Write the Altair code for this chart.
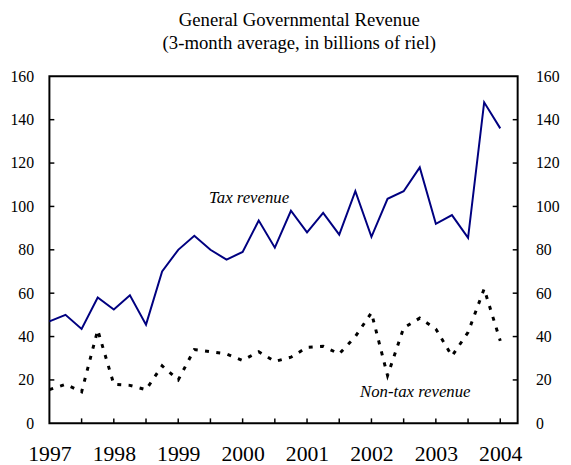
import altair as alt
import pandas as pd

# quarterly observations, 1997Q1 .. 2004Q1
start_year = 1997
tax_revenue = [47, 50, 43.5, 58, 52.5, 59, 45.5, 70, 80, 86.5, 80, 75.5, 79, 93.5, 81,
               98, 88, 97, 87, 107, 86, 103.5, 107, 118, 92, 96, 85.5, 148, 136]
nontax_revenue = [15.5, 18, 14.5, 43, 18, 17.5, 15.5, 26.5, 20, 34, 33, 32, 29, 33, 28.5,
                  30.5, 35, 35.5, 32, 40, 51, 22, 44, 48.5, 43.5, 31, 42, 62, 38]
year_labels = [1997, 1998, 1999, 2000, 2001, 2002, 2003, 2004]
x_ticks = [1997.5, 1998, 1998.5, 1999, 1999.5, 2000, 2000.5, 2001, 2001.5, 2002,
           2002.5, 2003, 2003.5, 2004]
y_ticks = [0, 20, 40, 60, 80, 100, 120, 140, 160]
annotations = ["Tax revenue", "Non-tax revenue"]
annot_x = [2000.1, 2002.68]
annot_y = [104, 14.5]

t = [start_year + i * 0.25 for i in range(len(tax_revenue))]
df = pd.DataFrame({"t": t, "tax": tax_revenue, "nontax": nontax_revenue})
ytick_df = pd.DataFrame({"v": y_ticks[1:-1]})
xtick_df = pd.DataFrame({"v": x_ticks})
ann_df = pd.DataFrame({"label": annotations, "x": annot_x, "y": annot_y})

W, H = 475, 352
SERIF = "Liberation Serif"
xscale = alt.Scale(domain=[1997, 2004.27], nice=False, zero=False)
yscale = alt.Scale(domain=[0, 160], nice=False)

x_axis = alt.Axis(values=year_labels, format="d", grid=False, ticks=False,
                  domain=False, labelFont=SERIF, labelFontSize=22,
                  labelColor="black", labelPadding=21, labelFlush=False)


def xe(field):
    return alt.X(field, scale=xscale, title=None, axis=x_axis)


tax = alt.Chart(df).mark_line(color="#000080", strokeWidth=2).encode(
    x=xe("t:Q"),
    y=alt.Y("tax:Q", scale=yscale, title=None,
            axis=alt.Axis(values=y_ticks, orient="left", grid=False, ticks=False,
                          domain=False, labelFont=SERIF, labelFontSize=16,
                          labelColor="black", labelPadding=16)),
)

nontax = alt.Chart(df).mark_line(color="black", strokeWidth=3, strokeDash=[4, 7.5]).encode(
    x=xe("t:Q"),
    y=alt.Y("nontax:Q", scale=yscale, title=None,
            axis=alt.Axis(values=y_ticks, orient="right", grid=False, ticks=False,
                          domain=False, labelFont=SERIF, labelFontSize=16,
                          labelColor="black", labelPadding=18)),
)

lt = alt.Chart(ytick_df).mark_rule(color="black", strokeWidth=1.5).encode(
    y=alt.Y("v:Q", scale=yscale, axis=None), x=alt.value(0), x2=alt.value(5))
rt = alt.Chart(ytick_df).mark_rule(color="black", strokeWidth=1.5).encode(
    y=alt.Y("v:Q", scale=yscale, axis=None), x=alt.value(W - 5), x2=alt.value(W))
bt = alt.Chart(xtick_df).mark_rule(color="black", strokeWidth=1.5).encode(
    x=xe("v:Q"), y=alt.value(H - 5), y2=alt.value(H))

ann = alt.Chart(ann_df).mark_text(font=SERIF, fontSize=17, fontStyle="italic",
                                  color="black").encode(
    x=xe("x:Q"),
    y=alt.Y("y:Q", scale=yscale, axis=None),
    text="label:N")

chart = alt.layer(tax, nontax, lt, rt, bt, ann).resolve_scale(
    y="independent"
).properties(
    width=W, height=H,
    background="white",
    autosize=alt.AutoSizeParams(type="none"),
    padding={"left": 42, "top": 66, "right": 46, "bottom": 39},
    title=alt.TitleParams(["General Governmental Revenue",
                           "(3-month average, in billions of riel)"],
                          font=SERIF, fontSize=19, fontWeight="normal",
                          color="black", anchor="middle", offset=16, dx=16,
                          lineHeight=23),
).configure_view(stroke="black", strokeWidth=2)

chart.save("out.html", embed_options={"renderer": "svg", "actions": False})
